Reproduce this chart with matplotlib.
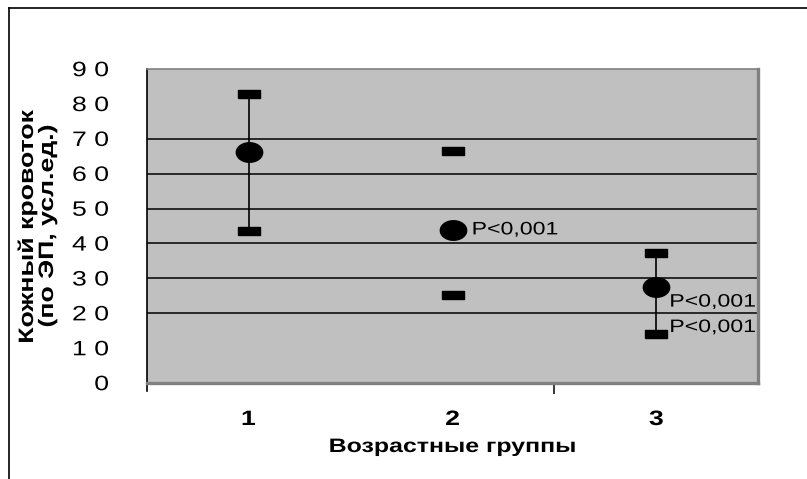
import numpy as np
import matplotlib
matplotlib.use('Agg')
import matplotlib.pyplot as plt
import matplotlib.transforms as mtransforms
from matplotlib.lines import Line2D
from matplotlib.textpath import TextPath
from matplotlib.patches import PathPatch
from matplotlib.font_manager import FontProperties
from matplotlib.transforms import Affine2D, ScaledTranslation

# age groups with mean and range of skin blood flow
groups = [1, 2, 3]
group_labels = ['1', '2', '3']
means = [66.3, 43.8, 27.4]
upper = [82.7, 66.6, 37.2]
lower = [43.5, 25.1, 14.1]
has_whisker = [True, False, True]

yticks = [0, 10, 20, 30, 40, 50, 60, 70, 80, 90]
ytick_labels = ['0', '1 0', '2 0', '3 0', '4 0', '5 0', '6 0', '7 0', '8 0', '9 0']
grid_levels = [20, 30, 40, 50, 60, 70]
tick_marks = [20, 30, 40, 50, 60, 70, 90]

xlabel = 'Возрастные группы'
ylabel = ['Кожный кровоток', '(по ЭП, усл.ед.)']
p_text = 'P<0,001'

SX = 1.28  # wide lettering

fig = plt.figure(figsize=(8.07, 4.79), dpi=100)
ax = fig.add_axes([147/807, 1-383/479, 611/807, 314/479])
ax.set_facecolor('#c0c0c0')
ax.set_xlim(0.5, 3.5)
ax.set_ylim(0, 90)


def wide_text(s, xy, transform, size, weight='normal', ha='left', va='baseline',
              rotation=0, offset=(0, 0), stretch=SX):
    prop = FontProperties(family='Liberation Sans', weight=weight)
    tp = TextPath((0, 0), s, size=size, prop=prop)
    ext = tp.get_extents()
    x0 = {'left': ext.x0, 'center': (ext.x0 + ext.x1) / 2, 'right': ext.x1}[ha]
    y0 = 0
    if va == 'cap':
        y0 = TextPath((0, 0), 'H', size=size, prop=prop).get_extents().y1 / 2
    k = fig.dpi / 72
    tr = (Affine2D().translate(-x0, -y0).scale(stretch * k, k)
          .rotate_deg(rotation).translate(*offset)
          + ScaledTranslation(xy[0], xy[1], transform))
    fig.add_artist(PathPatch(tp, transform=tr, fc='black', ec='none'))


# gridlines
for g in grid_levels:
    ax.axhline(g, color='black', lw=1.1, zorder=1)

# whiskers, caps and means
t = np.linspace(0, 2*np.pi, 40)
dot = np.column_stack([1.35*np.cos(t), np.sin(t)])
cap = [(-1.5, -0.5), (1.5, -0.5), (1.5, 0.5), (-1.5, 0.5), (-1.5, -0.5)]
for x, m, hi, lo, w in zip(groups, means, upper, lower, has_whisker):
    if w:
        ax.plot([x, x], [lo, hi], color='black', lw=1.2, zorder=2)
    ax.plot([x, x], [lo, hi], ls='none', marker=cap, markersize=16,
            color='black', zorder=3)
    ax.plot(x, m, ls='none', marker=dot, markersize=19, color='black', zorder=4)

# significance notes
wide_text(p_text, (groups[1], means[1]), ax.transData, 13, va='cap', offset=(21, 2))
wide_text(p_text, (groups[2], means[2]), ax.transData, 13, va='cap', offset=(15, -13))
wide_text(p_text, (groups[2], lower[2]), ax.transData, 13, va='cap', offset=(15, 8))

# axes styling
ax.set_yticks(yticks)
ax.tick_params(axis='y', which='major', length=0, labelleft=False)
ax.set_yticks(tick_marks, minor=True)
ax.tick_params(axis='y', which='minor', length=9, width=1.1, color='black', direction='out')

ax.set_xticks(groups)
ax.tick_params(axis='x', which='major', length=0, labelbottom=False)
ax.set_xticks([2.5], minor=True)
ax.tick_params(axis='x', which='minor', length=8, width=1.1, color='black')

ylab_tr = mtransforms.blended_transform_factory(ax.transAxes, ax.transData)
for v, lab in zip(yticks, ytick_labels):
    wide_text(lab, (0, v), ylab_tr, 15, ha='right', va='cap', offset=(-39, 0))

xlab_tr = mtransforms.blended_transform_factory(ax.transData, ax.transAxes)
for g, lab in zip(groups, group_labels):
    wide_text(lab, (g, 0), xlab_tr, 15, weight='bold', ha='center', offset=(0, -42))

wide_text(xlabel, (0.5, 0), ax.transAxes, 14, weight='bold', ha='center', offset=(0, -69))
wide_text(ylabel[0], (0, 0.5), ax.transAxes, 15, weight='bold', ha='center',
          rotation=90, offset=(-114, 0))
wide_text(ylabel[1], (0, 0.5), ax.transAxes, 15, weight='bold', ha='center',
          rotation=90, offset=(-94, 0))

ax.spines['left'].set_color('black')
ax.spines['left'].set_linewidth(1.2)
ax.spines['top'].set_color('#808080')
ax.spines['top'].set_linewidth(1.2)
for s in ['right', 'bottom']:
    ax.spines[s].set_color('#808080')
    ax.spines[s].set_linewidth(2.4)
ax.add_line(Line2D([0, 0], [-0.025, 0], transform=ax.transAxes, color='black',
                   lw=1.2, clip_on=False))

# outer frame
fig.add_artist(Line2D([9/807, 9/807], [0, 1-8/479], color='black', lw=1.2))
fig.add_artist(Line2D([9/807, 1], [1-8/479, 1-8/479], color='black', lw=1.2))

fig.savefig('out.png', dpi=100)
